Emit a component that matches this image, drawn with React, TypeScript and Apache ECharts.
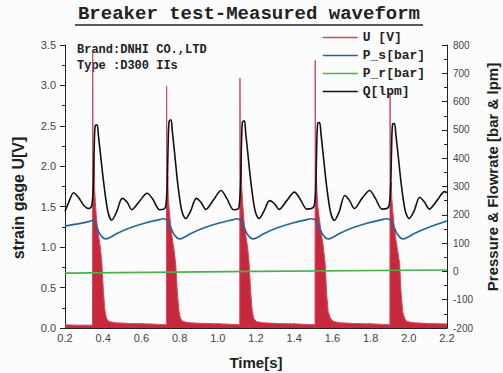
import React, { useEffect, useRef } from "react";
import * as echarts from "echarts";

// ---- Data ----
const xTicks = { min: 0.2, max: 2.2, step: 0.2 };
const leftTicks = { min: 0, max: 3.5, step: 0.5 };
const rightTicks = { min: -200, max: 800, step: 100 };

const seriesNames = ["U [V]", "P_s[bar]", "P_r[bar]", "Q[lpm]"];

// U [V] strain gage signal envelope (time s, volts)
const uData: number[][] = [
  [0.2, 0.04], [0.26, 0.035], [0.344, 0.035],
  [0.345, 3.42], [0.347, 1.9], [0.351, 2.15], [0.354, 1.75], [0.359, 1.55], [0.365, 1.35], [0.375, 1.15], [0.385, 1.0], [0.393, 0.8], [0.401, 0.45], [0.409, 0.22], [0.417, 0.12], [0.43, 0.08], [0.465, 0.065], [0.545, 0.055], [0.645, 0.05], [0.731, 0.04],
  [0.732, 2.99], [0.734, 1.8], [0.738, 1.88], [0.741, 1.6], [0.746, 1.45], [0.752, 1.3], [0.762, 1.1], [0.772, 0.95], [0.78, 0.78], [0.788, 0.45], [0.796, 0.22], [0.804, 0.12], [0.817, 0.08], [0.852, 0.065], [0.932, 0.055], [1.032, 0.05], [1.115, 0.04],
  [1.116, 3.09], [1.118, 1.9], [1.122, 2.2], [1.125, 1.75], [1.13, 1.55], [1.136, 1.35], [1.146, 1.15], [1.156, 1.0], [1.164, 0.8], [1.172, 0.45], [1.18, 0.22], [1.188, 0.12], [1.201, 0.08], [1.236, 0.065], [1.316, 0.055], [1.416, 0.05], [1.509, 0.04],
  [1.51, 3.31], [1.512, 1.85], [1.516, 1.9], [1.519, 1.7], [1.524, 1.5], [1.53, 1.38], [1.54, 1.2], [1.55, 1.05], [1.562, 0.8], [1.57, 0.42], [1.578, 0.2], [1.59, 0.12], [1.605, 0.08], [1.64, 0.065], [1.72, 0.055], [1.82, 0.05], [1.901, 0.04],
  [1.902, 2.91], [1.904, 1.75], [1.908, 1.8], [1.911, 1.6], [1.916, 1.45], [1.922, 1.3], [1.932, 1.1], [1.942, 0.95], [1.952, 0.8], [1.96, 0.42], [1.968, 0.2], [1.978, 0.12], [1.99, 0.08], [2.025, 0.065], [2.1, 0.055], [2.2, 0.05],
];

// P_s [bar]
const psData: number[][] = [
  [0.2, 160], [0.26, 167], [0.325, 176],
  [0.345, 180], [0.36, 165], [0.38, 135], [0.4, 118], [0.415, 115], [0.435, 120], [0.475, 135], [0.545, 155], [0.625, 172], [0.695, 183], [0.712, 186],
  [0.732, 182], [0.747, 165], [0.767, 135], [0.787, 118], [0.802, 115], [0.822, 120], [0.862, 135], [0.932, 155], [1.012, 172], [1.082, 183], [1.098, 186],
  [1.116, 182], [1.131, 165], [1.151, 135], [1.171, 118], [1.186, 115], [1.206, 120], [1.246, 135], [1.316, 155], [1.396, 172], [1.466, 183], [1.49, 186],
  [1.51, 182], [1.525, 165], [1.545, 135], [1.565, 118], [1.58, 115], [1.6, 120], [1.64, 135], [1.71, 155], [1.79, 172], [1.86, 183], [1.882, 186],
  [1.902, 182], [1.917, 165], [1.937, 135], [1.957, 118], [1.972, 115], [1.992, 120], [2.032, 135], [2.102, 155], [2.2, 178],
];

// P_r [bar]
const prData: number[][] = [
  [0.2, -6], [1.2, 0], [2.2, 5],
];

// Q [lpm]
const qData: number[][] = [
  [0.2, 212], [0.22, 245], [0.245, 278], [0.27, 262], [0.3, 232], [0.325, 222], [0.34, 232],
  [0.348, 300], [0.353, 440], [0.358, 515], [0.368, 518], [0.375, 480], [0.388, 400], [0.405, 300], [0.425, 210], [0.445, 181], [0.47, 210], [0.5, 258], [0.525, 245], [0.55, 218], [0.59, 248], [0.63, 276], [0.66, 255], [0.695, 218], [0.72, 221], [0.728, 232],
  [0.735, 300], [0.74, 450], [0.745, 530], [0.755, 536], [0.762, 495], [0.775, 410], [0.792, 300], [0.812, 212], [0.832, 187], [0.857, 212], [0.887, 258], [0.912, 244], [0.937, 219], [0.977, 252], [1.017, 286], [1.047, 258], [1.082, 218], [1.107, 221], [1.112, 232],
  [1.119, 300], [1.124, 450], [1.129, 528], [1.139, 532], [1.146, 490], [1.159, 405], [1.176, 300], [1.196, 212], [1.216, 187], [1.241, 212], [1.271, 250], [1.296, 240], [1.321, 219], [1.361, 250], [1.401, 280], [1.431, 256], [1.466, 220], [1.49, 222], [1.505, 232],
  [1.513, 300], [1.518, 445], [1.523, 524], [1.533, 526], [1.54, 488], [1.553, 405], [1.57, 300], [1.59, 210], [1.61, 180], [1.635, 210], [1.665, 268], [1.69, 250], [1.715, 222], [1.755, 258], [1.795, 286], [1.825, 258], [1.86, 220], [1.885, 222], [1.897, 232],
  [1.905, 300], [1.91, 440], [1.915, 520], [1.925, 522], [1.932, 485], [1.945, 405], [1.962, 300], [1.982, 212], [2.002, 187], [2.027, 212], [2.057, 262], [2.082, 245], [2.107, 220], [2.147, 250], [2.187, 282], [2.2, 278],
];

const titleText = "Breaker test-Measured waveform";
const infoLines = ["Brand:DNHI CO.,LTD", "Type :D300 IIs"];
const axisNames = { x: "Time[s]", left: "strain gage U[V]", right: "Pressure & Flowrate [bar & lpm]" };

const SANS = "'Liberation Sans', Arial, sans-serif";
const MONO = "'Liberation Mono', 'Courier New', monospace";

export default function App() {
  const ref = useRef<HTMLDivElement>(null);
  useEffect(() => {
    if (!ref.current) return;
    const chart = echarts.init(ref.current, undefined, { renderer: "svg" });
    const tickLabel = { fontFamily: SANS, fontSize: 11, color: "#444" };
    chart.setOption({
      animation: false,
      backgroundColor: "#fcfcfc",
      grid: { left: 65, right: 56, top: 45, bottom: 45 },
      legend: {
        orient: "vertical",
        left: 322,
        top: 31,
        itemWidth: 35,
        itemHeight: 14,
        itemGap: 5,
        padding: 0,
        data: seriesNames,
        itemStyle: { opacity: 0 },
        lineStyle: { width: 1.5 },
        textStyle: { fontFamily: MONO, fontWeight: "bold", fontSize: 13, color: "#222" },
      },
      xAxis: {
        type: "value",
        min: xTicks.min,
        max: xTicks.max,
        interval: xTicks.step,
        axisLine: { lineStyle: { color: "#222", width: 1 } },
        axisTick: { inside: true, length: 5, lineStyle: { color: "#222" } },
        minorTick: { show: true, splitNumber: 2, length: 3, lineStyle: { color: "#222" } },
        splitLine: { show: false },
        axisLabel: { ...tickLabel, margin: 4, formatter: (v: number) => v.toFixed(1) },
      },
      yAxis: [
        {
          type: "value",
          min: leftTicks.min,
          max: leftTicks.max,
          interval: leftTicks.step,
          axisLine: { show: true, lineStyle: { color: "#222", width: 1 } },
          axisTick: { show: true, inside: false, length: 5, lineStyle: { color: "#222" } },
          minorTick: { show: true, splitNumber: 2, length: 3, lineStyle: { color: "#222" } },
          splitLine: { show: false },
          axisLabel: { ...tickLabel, margin: 9, formatter: (v: number) => v.toFixed(1) },
        },
        {
          type: "value",
          position: "right",
          min: rightTicks.min,
          max: rightTicks.max,
          interval: rightTicks.step,
          axisLine: { show: true, lineStyle: { color: "#222", width: 1 } },
          axisTick: { show: true, inside: true, length: 5, lineStyle: { color: "#222" } },
          minorTick: { show: true, splitNumber: 2, length: 3, lineStyle: { color: "#222" } },
          splitLine: { show: false },
          axisLabel: { ...tickLabel, fontSize: 10, margin: 6 },
        },
      ],
      series: [
        {
          name: seriesNames[0],
          type: "line",
          yAxisIndex: 0,
          data: uData,
          showSymbol: false,
          symbol: "none",
          color: "#d04a68",
          lineStyle: { color: "#d04a68", width: 1 },
          areaStyle: { color: "#c8283c", opacity: 1 },
          z: 1,
        },
        {
          name: seriesNames[1],
          type: "line",
          yAxisIndex: 1,
          data: psData,
          smooth: 0.3,
          showSymbol: false,
          symbol: "none",
          color: "#2a6596",
          lineStyle: { color: "#2a6596", width: 1.7 },
          z: 3,
        },
        {
          name: seriesNames[2],
          type: "line",
          yAxisIndex: 1,
          data: prData,
          showSymbol: false,
          symbol: "none",
          color: "#49b24a",
          lineStyle: { color: "#49b24a", width: 1.7 },
          z: 2,
        },
        {
          name: seriesNames[3],
          type: "line",
          yAxisIndex: 1,
          data: qData,
          smooth: 0.3,
          showSymbol: false,
          symbol: "none",
          color: "#111",
          lineStyle: { color: "#111", width: 1.6 },
          z: 4,
        },
      ],
      graphic: [
        {
          type: "text",
          x: 249,
          y: 14,
          style: { text: titleText, font: `bold 19px ${MONO}`, fill: "#222", align: "center", verticalAlign: "middle" },
        },
        { type: "line", shape: { x1: 75, y1: 25, x2: 423, y2: 25 }, style: { stroke: "#222", lineWidth: 1.5 } },
        {
          type: "text",
          x: 77,
          y: 50,
          style: { text: infoLines[0], font: `bold 12px ${MONO}`, fill: "#222", verticalAlign: "middle" },
        },
        {
          type: "text",
          x: 77,
          y: 66,
          style: { text: infoLines[1], font: `bold 12px ${MONO}`, fill: "#222", verticalAlign: "middle" },
        },
        {
          type: "text",
          x: 18,
          y: 198,
          rotation: Math.PI / 2,
          style: { text: axisNames.left, font: `bold 16px ${SANS}`, fill: "#222", align: "center", verticalAlign: "middle" },
        },
        {
          type: "text",
          x: 492,
          y: 177,
          rotation: Math.PI / 2,
          style: { text: axisNames.right, font: `bold 15px ${SANS}`, fill: "#222", align: "center", verticalAlign: "middle" },
        },
        {
          type: "text",
          x: 256,
          y: 362,
          style: { text: axisNames.x, font: `bold 15px ${SANS}`, fill: "#222", align: "center", verticalAlign: "middle" },
        },
      ],
    });
    return () => chart.dispose();
  }, []);
  return <div ref={ref} style={{ position: "fixed", left: 0, top: 0, width: 503, height: 373 }} />;
}
